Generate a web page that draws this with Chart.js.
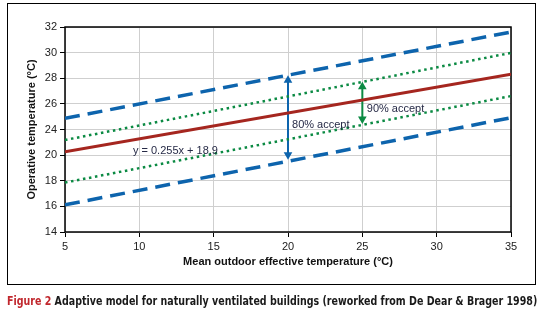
<!DOCTYPE html>
<html>
<head>
<meta charset="utf-8">
<script src="https://cdn.jsdelivr.net/npm/chart.js@4"></script>
<style>
  html, body { margin: 0; padding: 0; background: #fff; }
  #page { position: relative; width: 544px; height: 319px; overflow: hidden; }
  #chart { position: absolute; left: 0; top: 0; }
  #box { position: absolute; left: 7px; top: 3px; width: 527px; height: 280px; border: 1.5px solid #000; }
  #caption {
    position: absolute; left: 7px; top: 293px; white-space: nowrap;
    font: bold 12.5px "Liberation Sans Narrow", "DejaVu Sans Condensed", sans-serif;
    color: #1a1a1a; transform-origin: 0 0;
  }
  #caption b { color: #c1272d; }
</style>
</head>
<body>
<div id="page">
  <canvas id="chart" width="544" height="290"></canvas>
  <div id="box"></div>
  <div id="caption"><b>Figure 2</b> Adaptive model for naturally ventilated buildings (reworked from De Dear &amp; Brager 1998)</div>
</div>
<script>
// end points of each straight line (y in grid units)
const X_RANGE = [5, 35];
const UPPER_80 = [22.87, 29.61];
const UPPER_90 = [21.18, 27.98];
const NEUTRAL = [20.27, 26.32];
const LOWER_90 = [17.86, 24.61];
const LOWER_80 = [16.12, 22.92];

// acceptability arrows
const ARROW_80_X = 20;
const ARROW_80_Y = [20.02, 25.85];
const ARROW_90_X = 25;
const ARROW_90_Y = [22.82, 25.33];

// y labels as printed on the original (22 is skipped)
const Y_TICK_LABELS = ['14', '16', '18', '20', '24', '26', '28', '30', '32'];

const NOTES = [
  { text: 'y = 0.255x + 18.9', x: 9.57, y: 20.33 },
  { text: '80% accept', x: 20.27, y: 22.35 },
  { text: '90% accept', x: 25.3, y: 23.62 },
];

const BLUE = '#0d64ad';
const GREEN = '#0b8a43';
const RED = '#a5261f';
const FONT = '"Liberation Sans", Arial, sans-serif';

const pts = (ys) => X_RANGE.map((x, i) => ({ x, y: ys[i] }));
const vert = (x, ys) => ys.map((y) => ({ x, y }));

const dashed = (label, ys) => ({
  label, data: pts(ys), borderColor: BLUE, borderWidth: 3.5,
  borderDash: [15, 8], pointRadius: 0,
});
const dotted = (label, ys) => ({
  label, data: pts(ys), borderColor: GREEN, borderWidth: 2.5,
  borderDash: [2.5, 3.6], pointRadius: 0,
});
const arrow = (label, x, ys, color) => ({
  label, data: vert(x, ys), borderColor: color, backgroundColor: color,
  borderWidth: 2, pointStyle: 'triangle', pointRadius: 5, pointBorderWidth: 0,
  pointRotation: [180, 0],
});

const framePlugin = {
  id: 'frame',
  beforeDatasetsDraw(chart) {
    const { ctx, chartArea: a } = chart;
    ctx.save();
    ctx.strokeStyle = '#000';
    ctx.lineWidth = 1.5;
    ctx.strokeRect(a.left, a.top, a.right - a.left, a.bottom - a.top);
    ctx.restore();
  },
  afterDatasetsDraw(chart) {
    const { ctx, scales: { x, y } } = chart;
    ctx.save();
    ctx.font = '11px ' + FONT;
    ctx.fillStyle = '#262a46';
    ctx.textBaseline = 'middle';
    NOTES.forEach((n) => {
      ctx.fillText(n.text, x.getPixelForValue(n.x), y.getPixelForValue(n.y));
    });
    ctx.restore();
  },
};

new Chart(document.getElementById('chart'), {
  type: 'line',
  data: {
    datasets: [
      dashed('upper 80%', UPPER_80),
      dotted('upper 90%', UPPER_90),
      { label: 'neutral', data: pts(NEUTRAL), borderColor: RED, borderWidth: 3, pointRadius: 0 },
      dotted('lower 90%', LOWER_90),
      dashed('lower 80%', LOWER_80),
      arrow('80% accept', ARROW_80_X, ARROW_80_Y, BLUE),
      arrow('90% accept', ARROW_90_X, ARROW_90_Y, GREEN),
    ],
  },
  options: {
    responsive: false,
    animation: false,
    layout: { padding: { left: 0, right: 33, top: 27, bottom: 0 } },
    plugins: { legend: { display: false }, tooltip: { enabled: false } },
    scales: {
      x: {
        type: 'linear', min: 5, max: 35,
        ticks: { stepSize: 5, color: '#222', padding: 3, font: { family: FONT, size: 11 } },
        grid: { color: '#cfcfcf', tickColor: '#000', tickLength: 5 },
        border: { display: false },
        title: {
          display: true, text: 'Mean outdoor effective temperature (°C)', color: '#111',
          font: { family: FONT, size: 11, weight: 'bold' }, padding: { top: 4, bottom: 21 },
        },
        afterFit: (s) => { s.height = 58; },
      },
      y: {
        min: 14, max: 30,
        ticks: {
          stepSize: 2, color: '#222', padding: 3, font: { family: FONT, size: 11 },
          callback: (v, i) => Y_TICK_LABELS[i],
        },
        grid: { color: '#cfcfcf', tickColor: '#000', tickLength: 5 },
        border: { display: false },
        title: {
          display: true, text: 'Operative temperature (°C)', color: '#111',
          font: { family: FONT, size: 11, weight: 'bold' }, padding: { top: 25, bottom: 0 },
        },
        afterFit: (s) => { s.width = 65; },
      },
    },
  },
  plugins: [framePlugin],
});

// squeeze the caption to the width of the figure box
const cap = document.getElementById('caption');
cap.style.transform = 'scaleX(' + (530 / cap.scrollWidth) + ')';
</script>
</body>
</html>
